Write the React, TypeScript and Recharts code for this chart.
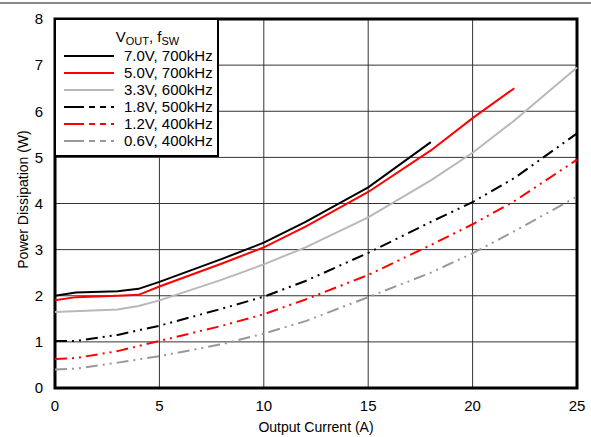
import React from "react";
import {
  LineChart,
  Line,
  XAxis,
  YAxis,
  CartesianGrid,
  ReferenceArea,
} from "recharts";

// output current (A) / power dissipation (W)
const v70x = [0, 1, 3, 4, 5, 8, 10, 12, 15, 18];
const v70y = [2.0, 2.07, 2.1, 2.15, 2.3, 2.8, 3.15, 3.6, 4.35, 5.33];
const v50x = [0, 1, 3, 4, 5, 8, 10, 12, 15, 18, 20, 22];
const v50y = [1.9, 1.97, 2.0, 2.02, 2.2, 2.7, 3.05, 3.5, 4.25, 5.15, 5.85, 6.5];
const v33x = [0, 3, 4, 5, 8, 10, 12, 15, 18, 20, 22, 25];
const v33y = [1.65, 1.7, 1.78, 1.9, 2.35, 2.68, 3.05, 3.7, 4.5, 5.1, 5.8, 6.95];
const v18x = [0, 1, 3, 5, 8, 10, 12, 15, 18, 20, 22, 25];
const v18y = [1.02, 1.02, 1.15, 1.35, 1.72, 1.98, 2.32, 2.93, 3.6, 4.03, 4.55, 5.52];
const v12x = [0, 1, 3, 5, 8, 10, 12, 15, 18, 20, 22, 25];
const v12y = [0.63, 0.65, 0.8, 1.02, 1.35, 1.6, 1.92, 2.45, 3.1, 3.55, 4.05, 4.95];
const v06x = [0, 1, 3, 5, 8, 10, 12, 15, 18, 20, 22, 25];
const v06y = [0.4, 0.42, 0.55, 0.69, 0.95, 1.18, 1.45, 1.97, 2.5, 2.92, 3.4, 4.15];

const xTicks = [0, 5, 10, 15, 20, 25];
const yTicks = [0, 1, 2, 3, 4, 5, 6, 7, 8];

const toPoints = (xs: number[], ys: number[]) =>
  xs.map((x, i) => ({ x, y: ys[i] }));

const DASH_DOT_DOT = "12 5 2 5 2 5";

const SERIES = [
  { name: "7.0V, 700kHz", data: toPoints(v70x, v70y), color: "#000000", dashed: false },
  { name: "5.0V, 700kHz", data: toPoints(v50x, v50y), color: "#ff0000", dashed: false },
  { name: "3.3V, 600kHz", data: toPoints(v33x, v33y), color: "#b8b8b8", dashed: false },
  { name: "1.8V, 500kHz", data: toPoints(v18x, v18y), color: "#000000", dashed: true },
  { name: "1.2V, 400kHz", data: toPoints(v12x, v12y), color: "#ff0000", dashed: true },
  { name: "0.6V, 400kHz", data: toPoints(v06x, v06y), color: "#999999", dashed: true },
];

const FONT = "'Liberation Sans', Arial, sans-serif";

function LegendBox() {
  return (
    <div
      style={{
        position: "absolute",
        left: 54,
        top: 18,
        width: 161,
        height: 135,
        border: "2px solid #000",
        background: "#fff",
        fontFamily: FONT,
        fontSize: 15,
        color: "#000",
      }}
    >
      <div style={{ textAlign: "center", paddingLeft: 22, marginTop: 9, height: 18, lineHeight: "16px" }}>
        V<sub style={{ fontSize: 11, verticalAlign: -3 }}>OUT</sub>, f
        <sub style={{ fontSize: 11, verticalAlign: -3 }}>SW</sub>
      </div>
      {SERIES.map((s) => (
        <div
          key={s.name}
          style={{ display: "flex", alignItems: "center", height: 17, lineHeight: "17px" }}
        >
          <svg width={62} height={10} style={{ marginLeft: 6 }}>
            <line
              x1={2}
              y1={5}
              x2={52}
              y2={5}
              stroke={s.color}
              strokeWidth={2}
              strokeDasharray={s.dashed ? "20 5 6 5 6 5 6" : undefined}
            />
          </svg>
          <span>{s.name}</span>
        </div>
      ))}
    </div>
  );
}

export default function App() {
  return (
    <div style={{ position: "absolute", left: 0, top: 0, width: 591, height: 437, background: "#fff" }}>
      <div
        style={{ position: "absolute", left: 0, top: 2, width: 591, height: 2, background: "#888" }}
      />
      <LineChart
        width={591}
        height={437}
        margin={{ top: 19, right: 14, bottom: 0, left: 0 }}
      >
        <CartesianGrid stroke="#333" strokeWidth={1} />
        <XAxis
          dataKey="x"
          type="number"
          domain={[0, 25]}
          ticks={xTicks}
          tickLine={false}
          axisLine={false}
          height={49}
          tick={{ fill: "#000", fontSize: 15, fontFamily: FONT }}
          tickMargin={6}
          allowDuplicatedCategory={false}
          label={{
            value: "Output Current (A)",
            position: "insideBottom",
            offset: 5,
            fill: "#000",
            fontSize: 14,
            fontFamily: FONT,
          }}
        />
        <YAxis
          type="number"
          domain={[0, 8]}
          ticks={yTicks}
          tickLine={false}
          axisLine={false}
          width={55}
          tick={{ fill: "#000", fontSize: 15, fontFamily: FONT }}
          tickMargin={6}
          label={{
            value: "Power Dissipation (W)",
            angle: -90,
            position: "insideLeft",
            offset: 23,
            dy: -4,
            style: { textAnchor: "middle" },
            fill: "#000",
            fontSize: 14,
            fontFamily: FONT,
          }}
        />
        <ReferenceArea
          x1={0}
          x2={25}
          y1={0}
          y2={8}
          fill="none"
          stroke="#000"
          strokeWidth={3}
        />
        {SERIES.map((s) => (
          <Line
            key={s.name}
            data={s.data}
            dataKey="y"
            name={s.name}
            type="linear"
            stroke={s.color}
            strokeWidth={2}
            strokeDasharray={s.dashed ? DASH_DOT_DOT : undefined}
            dot={false}
            activeDot={false}
            isAnimationActive={false}
          />
        ))}
      </LineChart>
      <LegendBox />
    </div>
  );
}
